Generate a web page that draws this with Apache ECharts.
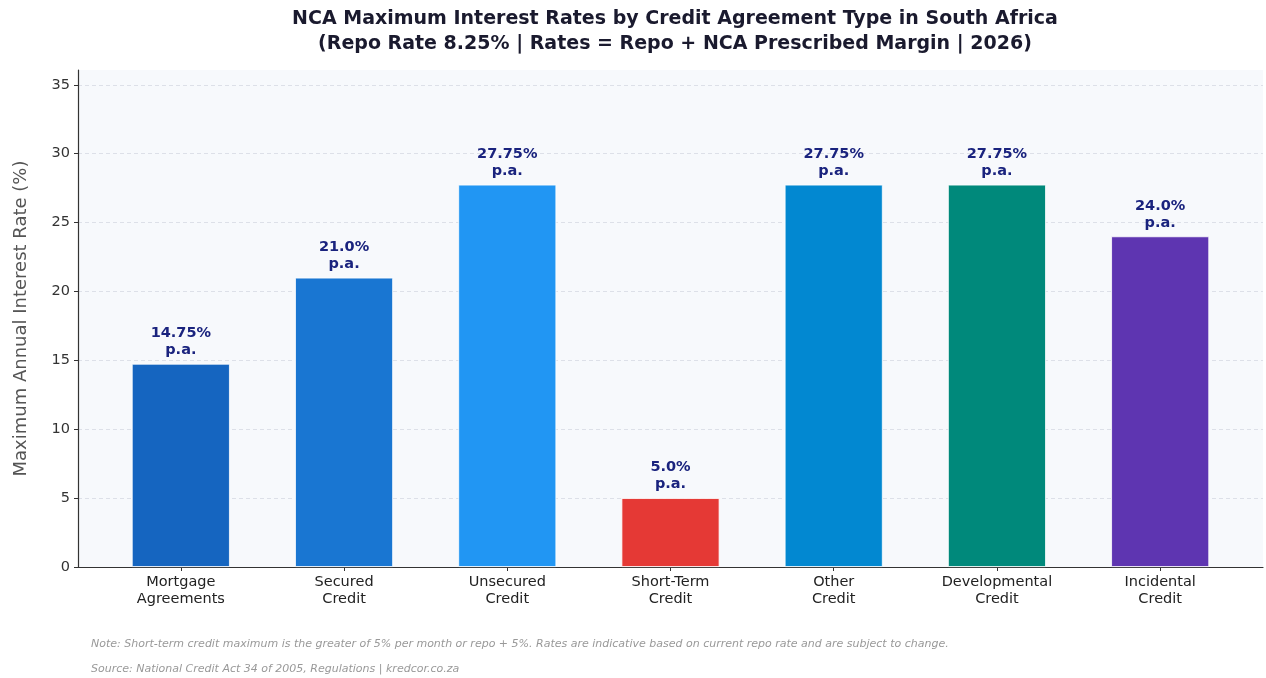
<!DOCTYPE html>
<html>
<head>
<meta charset="utf-8">
<script src="https://cdn.jsdelivr.net/npm/echarts@6/dist/echarts.min.js"></script>
<style>
  html, body { margin: 0; padding: 0; background: #fff; }
  #chart { width: 1266px; height: 678px; }
</style>
</head>
<body>
<div id="chart"></div>
<script>
// data
const categories = [
  'Mortgage\nAgreements', 'Secured\nCredit', 'Unsecured\nCredit', 'Short-Term\nCredit',
  'Other\nCredit', 'Developmental\nCredit', 'Incidental\nCredit'
];
const rates = [14.75, 21.0, 27.75, 5.0, 27.75, 27.75, 24.0];
const rateLabels = ['14.75%', '21.0%', '27.75%', '5.0%', '27.75%', '27.75%', '24.0%'];
const barColors = ['#1565C0', '#1976D2', '#2196F3', '#E53935', '#0288D1', '#00897B', '#5E35B1'];
const yTicks = [0, 5, 10, 15, 20, 25, 30, 35];

const font = 'DejaVu Sans';
const positions = categories.map((c, i) => i);

const chart = echarts.init(document.getElementById('chart'));
const option = {
  backgroundColor: '#ffffff',
  animation: false,
  textStyle: { fontFamily: font },
  title: [{
    text: 'NCA Maximum Interest Rates by Credit Agreement Type in South Africa\n(Repo Rate 8.25% | Rates = Repo + NCA Prescribed Margin | 2026)',
    left: 670,
    top: 2,
    textAlign: 'center',
    textStyle: { fontFamily: font, fontSize: 19, fontWeight: 'bold', color: '#1a1a2e', lineHeight: 25, align: 'center' }
  }, {
    text: 'Note: Short-term credit maximum is the greater of 5% per month or repo + 5%. Rates are indicative based on current repo rate and are subject to change.',
    left: 86,
    top: 634,
    textStyle: { fontFamily: font, fontSize: 11, fontStyle: 'italic', fontWeight: 'normal', color: '#999' }
  }, {
    text: 'Source: National Credit Act 34 of 2005, Regulations | kredcor.co.za',
    left: 86,
    top: 659,
    textStyle: { fontFamily: font, fontSize: 11, fontStyle: 'italic', fontWeight: 'normal', color: '#999' }
  }],
  grid: {
    left: 78, right: 3, top: 70, bottom: 111,
    show: true, backgroundColor: '#f7f9fc', borderWidth: 0
  },
  xAxis: {
    type: 'value',
    min: -0.63, max: 6.63,
    splitLine: { show: false },
    axisLine: { show: true, onZero: false, lineStyle: { color: '#333', width: 1.2 } },
    axisTick: { show: true, customValues: positions, length: 4, lineStyle: { color: '#333' } },
    axisLabel: {
      customValues: positions,
      formatter: v => categories[Math.round(v)],
      color: '#222', fontSize: 14.5, lineHeight: 17, margin: 7, align: 'center'
    }
  },
  yAxis: {
    type: 'value',
    min: 0, max: 36.075,
    name: 'Maximum Annual Interest Rate (%)',
    nameLocation: 'middle',
    nameGap: 48,
    nameTextStyle: { fontFamily: font, fontSize: 18, color: '#555' },
    axisLine: { show: true, onZero: false, lineStyle: { color: '#333', width: 1.2 } },
    axisTick: { show: true, customValues: yTicks, length: 4, lineStyle: { color: '#333' } },
    axisLabel: { customValues: yTicks, color: '#333', fontSize: 14.5, margin: 8 },
    splitLine: { show: true, customValues: yTicks, lineStyle: { color: '#d5d9e2', type: [4, 3], width: 0.8 } }
  },
  series: [{
    type: 'bar',
    barWidth: 98,
    data: rates.map((v, i) => ({
      value: [i, v],
      itemStyle: { color: barColors[i], borderColor: '#ffffff', borderWidth: 0.8 }
    })),
    label: {
      show: true,
      position: 'top',
      distance: 5,
      formatter: p => rateLabels[p.dataIndex] + '\np.a.',
      fontFamily: font, fontSize: 14.5, fontWeight: 'bold', color: '#1a237e', lineHeight: 17, align: 'center'
    }
  }]
};
chart.setOption(option);
</script>
</body>
</html>
